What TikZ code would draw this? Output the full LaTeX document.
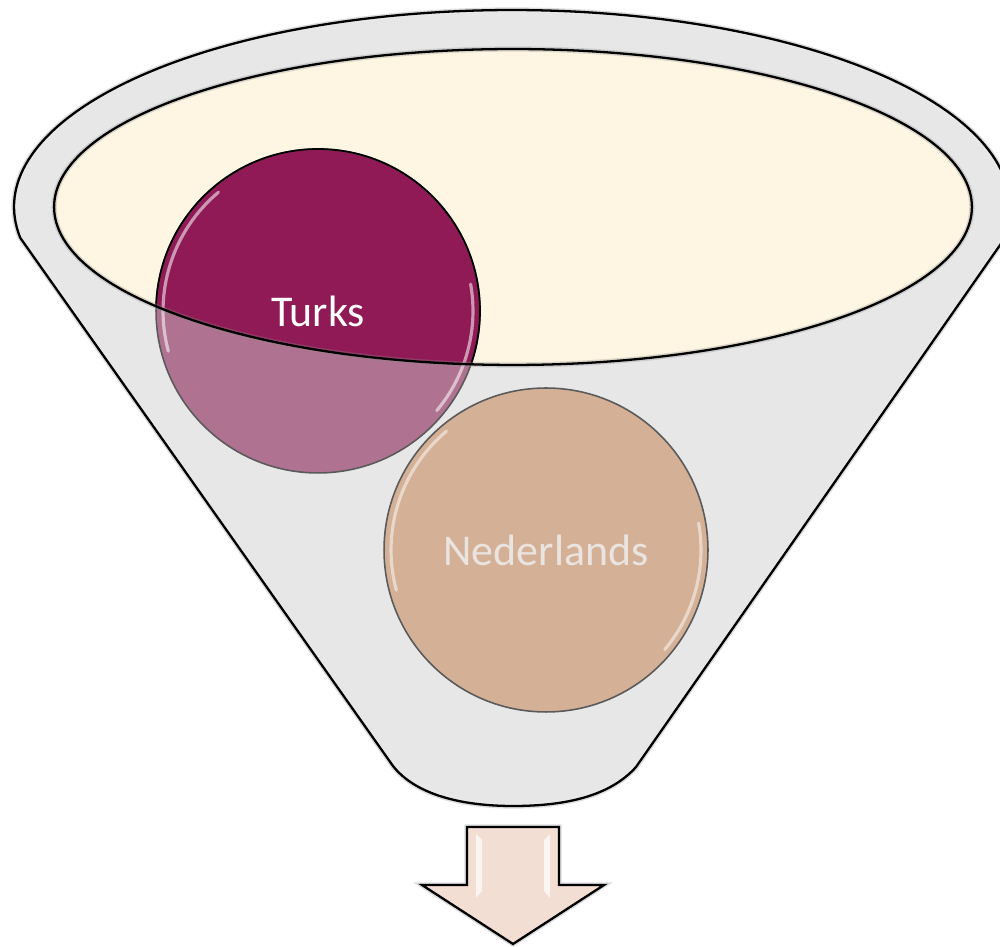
\documentclass[tikz,border=0pt]{standalone}
\usepackage{fontspec}
\setmainfont{Carlito}
\definecolor{funnelgray}{RGB}{231,231,231}
\definecolor{cream}{RGB}{254,245,226}
\definecolor{turksdark}{RGB}{143,26,85}
\definecolor{turkslight}{RGB}{176,114,145}
\definecolor{nedfill}{RGB}{212,176,150}
\definecolor{nedtext}{RGB}{234,228,224}
\definecolor{arrowfill}{RGB}{243,222,211}
\definecolor{ringgray}{RGB}{90,90,90}
\tikzset{
  outline/.style={draw=black, line width=1.3pt},
  halo/.style={draw=black!45, line width=3pt, opacity=0.3},
  shine/.style={draw=white, line width=1.8pt, opacity=0.55, line cap=round},
  label/.style={font=\fontsize{25}{30}\selectfont, inner sep=0pt}
}
\begin{document}
\begin{tikzpicture}[x=0.02cm, y=0.02cm]
\useasboundingbox (0,0) rectangle (1000,946);
% funnel body
\def\funnelpath{(512,739) ++(189:9.96cm and 3.94cm)
  arc[start angle=189, end angle=-10.5, x radius=9.96cm, y radius=3.94cm]
  -- (636,179) .. controls (610,150) and (566,140) .. (513,140)
  .. controls (460,140) and (415,152) .. (393,180) -- cycle}
\path[halo] \funnelpath;
\path[fill=funnelgray, outline] \funnelpath;
% rim ellipse fill
\coordinate (rimc) at (513,739);
\fill[cream] (rimc) ellipse[x radius=9.18cm, y radius=3.16cm];
% Turks circle
\coordinate (tc) at (318,635);
\fill[turkslight] (tc) circle[radius=3.24cm];
\begin{scope}
  \clip (rimc) ellipse[x radius=9.18cm, y radius=3.16cm];
  \fill[turksdark] (tc) circle[radius=3.24cm];
\end{scope}
\draw[ringgray, line width=0.9pt] (tc) circle[radius=3.24cm];
\begin{scope}
  \clip (rimc) ellipse[x radius=9.18cm, y radius=3.16cm];
  \draw[black, line width=1pt] (tc) circle[radius=3.24cm];
\end{scope}
\draw[shine] (tc) ++(130:3.1cm) arc[start angle=130, end angle=195, radius=3.1cm];
\draw[shine] (tc) ++(-40:3.1cm) arc[start angle=-40, end angle=10, radius=3.1cm];
% rim outline on top
\draw[halo] (rimc) ellipse[x radius=9.18cm, y radius=3.16cm];
\draw[outline] (rimc) ellipse[x radius=9.18cm, y radius=3.16cm];
\node[label, text=white] (turks) at (tc) {Turks};
% Nederlands circle
\coordinate (nc) at (546,396);
\draw[fill=nedfill, draw=ringgray, line width=0.9pt] (nc) circle[radius=3.24cm];
\draw[shine, opacity=0.5] (nc) ++(130:3.1cm) arc[start angle=130, end angle=195, radius=3.1cm];
\draw[shine, opacity=0.5] (nc) ++(-40:3.1cm) arc[start angle=-40, end angle=10, radius=3.1cm];
\node[label, text=nedtext] (ned) at (nc) {Nederlands};
% arrow
\def\arrowpath{(467,119) -- (559,119) -- (559,61) -- (604,61) -- (513,2) -- (422,61) -- (467,61) -- cycle}
\path[halo] \arrowpath;
\path[fill=arrowfill, outline, line join=miter] \arrowpath;
\fill[white, opacity=0.7] (476,112) -- (482,106) -- (482,55) -- (476,48) -- cycle;
\fill[white, opacity=0.7] (550,112) -- (544,106) -- (544,55) -- (550,48) -- cycle;
\end{tikzpicture}
\end{document}
